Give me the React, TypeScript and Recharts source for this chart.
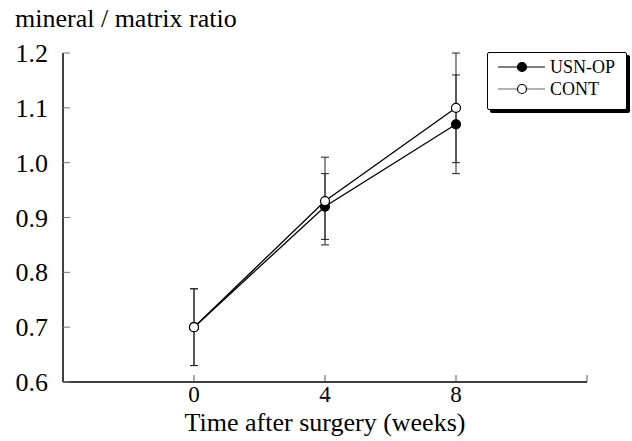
import { LineChart, Line, XAxis, YAxis, ErrorBar, Legend } from 'recharts'

const weeks = [0, 4, 8]
const usnOp = [0.7, 0.92, 1.07]
const usnOpErr = [0.07, 0.06, 0.09]
const cont = [0.7, 0.93, 1.1]
const contErr = [0.07, 0.08, 0.1]
const xTicks = [-4, 0, 4, 8, 12]
const xLabels = [0, 4, 8]
const yTicks = [0.6, 0.7, 0.8, 0.9, 1.0, 1.1, 1.2]

const FONT = '"Liberation Serif", "Times New Roman", serif'

const data = weeks.map((w, i) => ({
  week: w,
  usn: usnOp[i],
  usnErr: usnOpErr[i],
  cont: cont[i],
  contErr: contErr[i],
}))

function XTick({ x, y, payload }: any) {
  const v = payload.value
  if (v === -4) return null
  return (
    <g>
      <line x1={x} y1={y} x2={x} y2={y - 7} stroke="#555" strokeWidth={1} />
      {xLabels.includes(v) && (
        <text x={x} y={y + 20} textAnchor="middle" fontSize={23} fontFamily={FONT} fill="#000">
          {v}
        </text>
      )}
    </g>
  )
}

function YTick({ x, y, payload }: any) {
  return (
    <g>
      <line x1={x} y1={y} x2={x + 7} y2={y} stroke="#777" strokeWidth={1} />
      <text x={x - 15} y={y + 9} textAnchor="end" fontSize={26} fontFamily={FONT} fill="#000">
        {Number(payload.value).toFixed(1)}
      </text>
    </g>
  )
}

function Marker({ filled }: { filled: boolean }) {
  return (
    <svg width={47} height={14} style={{ display: 'block', flex: 'none' }}>
      <line x1={0} y1={7} x2={47} y2={7} stroke={filled ? '#000' : '#666'} strokeWidth={1.2} />
      <circle cx={24} cy={7} r={4.5} fill={filled ? '#000' : '#fff'} stroke="#000" strokeWidth={1.2} />
    </svg>
  )
}

function LegendBox() {
  const row = { display: 'flex', alignItems: 'center', height: 22, whiteSpace: 'nowrap' as const }
  return (
    <div
      style={{
        width: 140,
        height: 58,
        border: '1.5px solid #000',
        borderRadius: 2,
        boxShadow: '3px 3px 0 #000',
        background: '#fff',
        boxSizing: 'border-box',
        padding: '3px 0 0 10px',
        fontFamily: FONT,
        fontSize: 18,
        color: '#000',
      }}
    >
      <div style={row}>
        <Marker filled />
        <span style={{ marginLeft: 5 }}>USN-OP</span>
      </div>
      <div style={row}>
        <Marker filled={false} />
        <span style={{ marginLeft: 5 }}>CONT</span>
      </div>
    </div>
  )
}

export default function App() {
  return (
    <div style={{ position: 'absolute', left: 0, top: 0, width: 632, height: 441, background: '#fff' }}>
      <div style={{ position: 'absolute', left: 15, top: 4, fontFamily: FONT, fontSize: 26, color: '#000', whiteSpace: 'nowrap' }}>
        mineral / matrix ratio
      </div>
      <LineChart width={632} height={441} data={data} margin={{ top: 53, right: 45, bottom: 0, left: 0 }}>
        <XAxis
          type="number"
          dataKey="week"
          domain={[-4, 12]}
          ticks={xTicks}
          interval={0}
          tickSize={0}
          tickMargin={0}
          tickLine={false}
          tick={<XTick />}
          height={59}
          axisLine={{ stroke: '#000', strokeWidth: 1.5 }}
          label={{ value: 'Time after surgery (weeks)', position: 'insideBottom', offset: 10, fontSize: 26, fontFamily: FONT, fill: '#000' }}
        />
        <YAxis
          type="number"
          domain={[0.6, 1.2]}
          ticks={yTicks}
          interval={0}
          width={63}
          tickSize={0}
          tickMargin={0}
          tickLine={false}
          tick={<YTick />}
          axisLine={{ stroke: '#000', strokeWidth: 1.5 }}
        />
        <Legend layout="horizontal" verticalAlign="middle" align="center" content={<LegendBox />} wrapperStyle={{ position: 'absolute', left: 487, top: 52, width: 140 }} />
        <Line
          dataKey="usn"
          name="USN-OP"
          stroke="#000"
          strokeWidth={1.3}
          isAnimationActive={false}
          dot={{ r: 4.5, fill: '#000', stroke: '#000', strokeWidth: 1.2 }}
        >
          <ErrorBar dataKey="usnErr" width={4} stroke="#222" strokeWidth={1} direction="y" />
        </Line>
        <Line
          dataKey="cont"
          name="CONT"
          stroke="#000"
          strokeWidth={1.3}
          isAnimationActive={false}
          dot={{ r: 4.5, fill: '#fff', stroke: '#000', strokeWidth: 1.2 }}
        >
          <ErrorBar dataKey="contErr" width={4} stroke="#222" strokeWidth={1} direction="y" />
        </Line>
      </LineChart>
    </div>
  )
}
